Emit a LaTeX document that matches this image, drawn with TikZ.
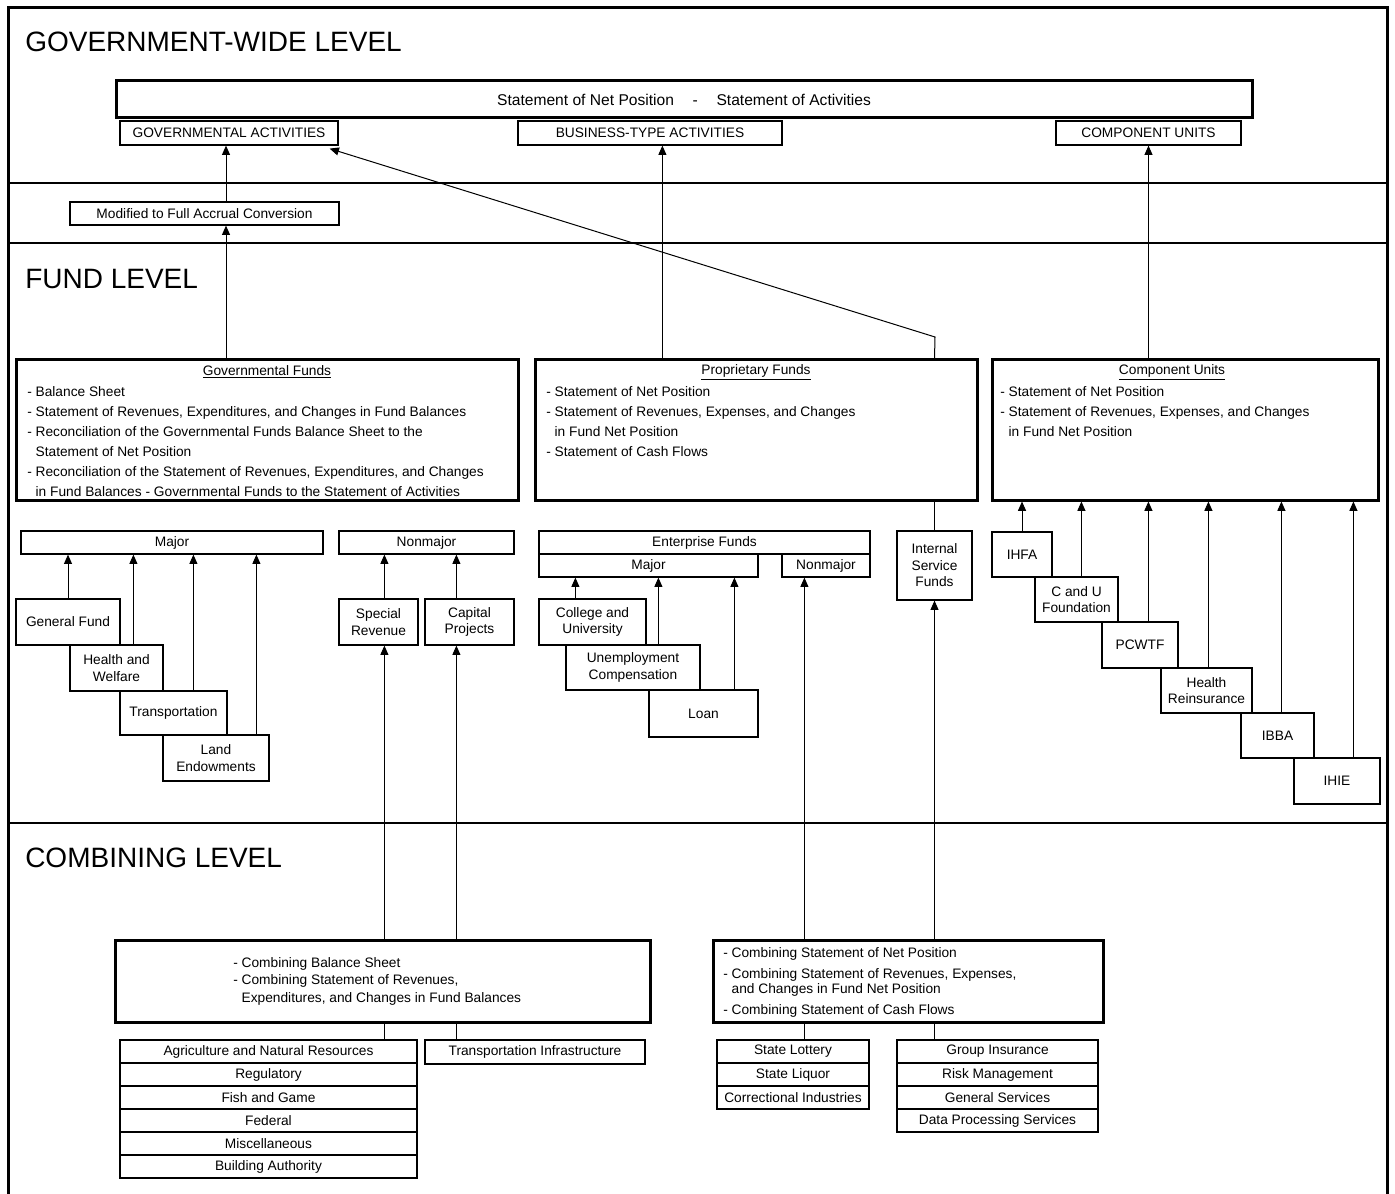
\documentclass[tikz,border=0pt]{standalone}
\usepackage{fontspec}
\setmainfont{Liberation Sans}
\usepackage{tikz}
\usetikzlibrary{arrows.meta,calc}
\tikzstyle{box}=[
        draw,
        line width=0.9pt,
        fill=white,
        inner sep=0pt,
        align=center,
        font=\fontsize{10.3}{12.4}\selectfont
]
\tikzstyle{bigbox}=[
        draw,
        line width=2.25pt,
        fill=white,
        inner sep=0pt
]
\tikzstyle{body}=[
        anchor=north west,
        inner sep=0pt,
        align=left,
        font=\fontsize{10.3}{15}\selectfont
]
\tikzstyle{level}=[
        anchor=base west,
        inner sep=0pt,
        font=\fontsize{21}{25}\selectfont
]
\tikzstyle{arr}=[-{Triangle[length=7pt,width=6pt]}, line width=0.75pt]
\tikzstyle{link}=[line width=0.75pt]

\begin{document}
\begin{tikzpicture}[x=0.75pt,y=-0.75pt]
                        \useasboundingbox (0,0) rectangle (1395,1194);

                        % frame and level bands
                        \draw[line width=2.25pt] (8,1200) -- (8,8) -- (1387,8) -- (1387,1200);
                        \draw[line width=0.9pt] (8,183) -- (1387,183);
                        \draw[line width=0.9pt] (8,243) -- (1387,243);
                        \draw[line width=0.9pt] (8,823) -- (1387,823);

                        \node[level] (gwlevel) at (25,52) {GOVERNMENT-WIDE LEVEL};
                        \node[level] (fundlevel) at (25,289) {FUND LEVEL};
                        \node[level] (comblevel) at (25,867) {COMBINING LEVEL};

                        % government-wide level
                        \node[bigbox, minimum width=852pt, minimum height=27.75pt,
                              font=\fontsize{11.7}{14}\selectfont] (topbox) at (684,99.5)
                              {Statement of Net Position\hspace{14pt}-\hspace{14pt}Statement of Activities};
                        \node[box, minimum width=163.5pt, minimum height=18pt] (ga) at (229,133) {GOVERNMENTAL ACTIVITIES};
                        \node[box, minimum width=198pt, minimum height=18pt] (bta) at (650,133) {BUSINESS-TYPE ACTIVITIES};
                        \node[box, minimum width=138.75pt, minimum height=18pt] (cus) at (1148.5,133) {COMPONENT UNITS};
                        \node[box, minimum width=201.75pt, minimum height=17.25pt] (conv) at (204.5,213.5) {Modified to Full Accrual Conversion};

                        % fund level
                        \node[bigbox, minimum width=376.5pt, minimum height=105pt] (govf) at (267,430) {};
                        \node[bigbox, minimum width=331.5pt, minimum height=105pt] (propf) at (756,430) {};
                        \node[bigbox, minimum width=289.5pt, minimum height=105pt] (cuf) at (1185,430) {};

                        \node[body, anchor=center] (govft) at (267,372) {\underline{Governmental Funds}};
                        \node[body] (govfl) at (27,386) {- Balance Sheet\\
                              - Statement of Revenues, Expenditures, and Changes in Fund Balances\\
                              - Reconciliation of the Governmental Funds Balance Sheet to the\\
                              \hphantom{- }Statement of Net Position\\
                              - Reconciliation of the Statement of Revenues, Expenditures, and Changes\\
                              \hphantom{- }in Fund Balances - Governmental Funds to the Statement of Activities};
                        \node[body, anchor=center] (propft) at (756,372) {\underline{Proprietary Funds}};
                        \node[body] (propfl) at (546,386) {- Statement of Net Position\\
                              - Statement of Revenues, Expenses, and Changes\\
                              \hphantom{- }in Fund Net Position\\
                              - Statement of Cash Flows};
                        \node[body, anchor=center] (cuft) at (1172,372) {\underline{Component Units}};
                        \node[body] (cufl) at (1000,386) {- Statement of Net Position\\
                              - Statement of Revenues, Expenses, and Changes\\
                              \hphantom{- }in Fund Net Position};

                        % governmental funds
                        \node[box, minimum width=226.5pt, minimum height=17.25pt] (gmaj) at (172,542.5) {Major};
                        \node[box, minimum width=131.25pt, minimum height=17.25pt] (gnon) at (426.5,542.5) {Nonmajor};
                        \node[box, minimum width=78pt, minimum height=34.5pt] (genf) at (68,622) {General Fund};
                        \node[box, minimum width=69.75pt, minimum height=34.5pt] (hw) at (116.5,668) {Health and\\Welfare};
                        \node[box, minimum width=80.25pt, minimum height=33pt] (trans) at (173.5,713) {Transportation};
                        \node[box, minimum width=79.5pt, minimum height=34.5pt] (land) at (216,758) {Land\\Endowments};
                        \node[box, minimum width=59.25pt, minimum height=34.5pt] (sr) at (378.5,622) {Special\\Revenue};
                        \node[box, minimum width=66.75pt, minimum height=34.5pt] (cp) at (469.5,622) {Capital\\Projects};

                        % enterprise and internal service funds
                        \node[box, minimum width=248.25pt, minimum height=17.25pt] (ef) at (704.5,542.5) {Enterprise Funds};
                        \node[box, minimum width=164.25pt, minimum height=17.25pt] (emaj) at (648.5,565.5) {Major};
                        \node[box, minimum width=66pt, minimum height=17.25pt] (enon) at (826,565.5) {Nonmajor};
                        \node[box, minimum width=80.25pt, minimum height=34.5pt] (cau) at (592.5,622) {College and\\University};
                        \node[box, minimum width=100.5pt, minimum height=33.75pt] (uc) at (633,667.5) {Unemployment\\Compensation};
                        \node[box, minimum width=81.75pt, minimum height=35.25pt] (loan) at (703.5,713.5) {Loan};
                        \node[box, minimum width=56.25pt, minimum height=51.75pt] (isf) at (934.5,565.5) {Internal\\Service\\Funds};

                        % component units
                        \node[box, minimum width=45pt, minimum height=33.75pt] (ihfa) at (1022,554.5) {IHFA};
                        \node[box, minimum width=62.25pt, minimum height=33.75pt] (cufound) at (1076.5,599.5) {C and U\\Foundation};
                        \node[box, minimum width=57pt, minimum height=34.5pt] (pcwtf) at (1140,645) {PCWTF};
                        \node[box, minimum width=68.25pt, minimum height=33.75pt] (hr) at (1206.5,690.5) {Health\\Reinsurance};
                        \node[box, minimum width=54.75pt, minimum height=33.75pt] (ibba) at (1277.5,735.5) {IBBA};
                        \node[box, minimum width=64.5pt, minimum height=34.5pt] (ihie) at (1337,781) {IHIE};

                        % combining level
                        \node[bigbox, minimum width=401.25pt, minimum height=61.5pt] (gcomb) at (382.5,981) {};
                        \node[body, font=\fontsize{10.3}{13.1}\selectfont] (gcombl) at (233,957) {- Combining Balance Sheet\\
                              - Combining Statement of Revenues,\\
                              \hphantom{- }Expenditures, and Changes in Fund Balances};
                        \node[bigbox, minimum width=292.5pt, minimum height=61.5pt] (pcomb) at (908,981) {};
                        \node[body, font=\fontsize{10.3}{11.25}\selectfont] (pcombl) at (723,947) {- Combining Statement of Net Position\\[4.5pt]
                              - Combining Statement of Revenues, Expenses,\\
                              \hphantom{- }and Changes in Fund Net Position\\[4.5pt]
                              - Combining Statement of Cash Flows};

                        \foreach \name [count=\i from 0] in {Agriculture and Natural Resources, Regulatory,
                              Fish and Game, Federal, Miscellaneous, Building Authority} {
                            \node[box, minimum width=222.75pt, minimum height=17.25pt] (gs\i) at (268.5,{1051.5+23*\i}) {\name};
                        }
                        \node[box, minimum width=165pt, minimum height=18pt] (ti) at (535,1052) {Transportation Infrastructure};
                        \foreach \name [count=\i from 0] in {State Lottery, State Liquor, Correctional Industries} {
                            \node[box, minimum width=114pt, minimum height=17.25pt] (es\i) at (793,{1051.5+23*\i}) {\name};
                        }
                        \foreach \name [count=\i from 0] in {Group Insurance, Risk Management, General Services,
                              Data Processing Services} {
                            \node[box, minimum width=150.75pt, minimum height=17.25pt] (is\i) at (997.5,{1051.5+23*\i}) {\name};
                        }

                        % connectors: government-wide
                        \coordinate (gain) at ($(ga.south)+(-3,0)$);
                        \draw[arr] (gain |- conv.north) -- (gain);
                        \draw[arr] (gain |- govf.north) -- (gain |- conv.south);
                        \coordinate (btain) at ($(bta.south west)+(145,0)$);
                        \draw[arr] (btain |- propf.north) -- (btain);
                        \draw[arr] (cuf.north -| cus.south) -- (cus.south);
                        \coordinate (isfbend) at (935,337);
                        \coordinate (gatip) at ($(ga.south east)+(-9,3)$);
                        \draw[link] (isf.north) -- (isf.north |- propf.south);
                        \draw[arr] (isf.north |- propf.north) -- (isfbend) -- (gatip);

                        % connectors: fund level
                        \draw[arr] (genf.north) -- (genf.north |- gmaj.south);
                        \draw[arr] ($(hw.north west)+(64,0)$) coordinate (c1) -- (c1 |- gmaj.south);
                        \draw[arr] ($(trans.north west)+(74,0)$) coordinate (c2) -- (c2 |- gmaj.south);
                        \draw[arr] ($(land.north west)+(94,0)$) coordinate (c3) -- (c3 |- gmaj.south);
                        \draw[arr] ($(sr.north west)+(46,0)$) coordinate (c4) -- (c4 |- gnon.south);
                        \draw[arr] ($(cp.north west)+(32,0)$) coordinate (c5) -- (c5 |- gnon.south);
                        \draw[arr] ($(cau.north west)+(37,0)$) coordinate (c6) -- (c6 |- emaj.south);
                        \draw[arr] ($(uc.north west)+(93,0)$) coordinate (c7) -- (c7 |- emaj.south);
                        \draw[arr] ($(loan.north west)+(86,0)$) coordinate (c8) -- (c8 |- emaj.south);
                        \draw[arr] (ihfa.north) -- (ihfa.north |- cuf.south);
                        \draw[arr] ($(cufound.north west)+(47,0)$) coordinate (c9) -- (c9 |- cuf.south);
                        \draw[arr] ($(pcwtf.north west)+(47,0)$) coordinate (c10) -- (c10 |- cuf.south);
                        \draw[arr] ($(hr.north west)+(48,0)$) coordinate (c11) -- (c11 |- cuf.south);
                        \draw[arr] ($(ibba.north west)+(41,0)$) coordinate (c12) -- (c12 |- cuf.south);
                        \draw[arr] ($(ihie.north west)+(60,0)$) coordinate (c13) -- (c13 |- cuf.south);

                        % connectors: combining level
                        \draw[arr] (c4 |- gcomb.north) -- (c4 |- sr.south);
                        \draw[arr] (c5 |- gcomb.north) -- (c5 |- cp.south);
                        \draw[link] (c4 |- gcomb.south) -- (c4 |- gs0.north);
                        \draw[link] (c5 |- gcomb.south) -- (c5 |- ti.north);
                        \coordinate (c14) at ($(enon.south west)+(23,0)$);
                        \draw[arr] (c14 |- pcomb.north) -- (c14);
                        \draw[arr] (isf.south |- pcomb.north) -- (isf.south);
                        \draw[link] (c14 |- pcomb.south) -- (c14 |- es0.north);
                        \draw[link] (isf.south |- pcomb.south) -- (isf.south |- is0.north);

                    \end{tikzpicture}
\end{document}
